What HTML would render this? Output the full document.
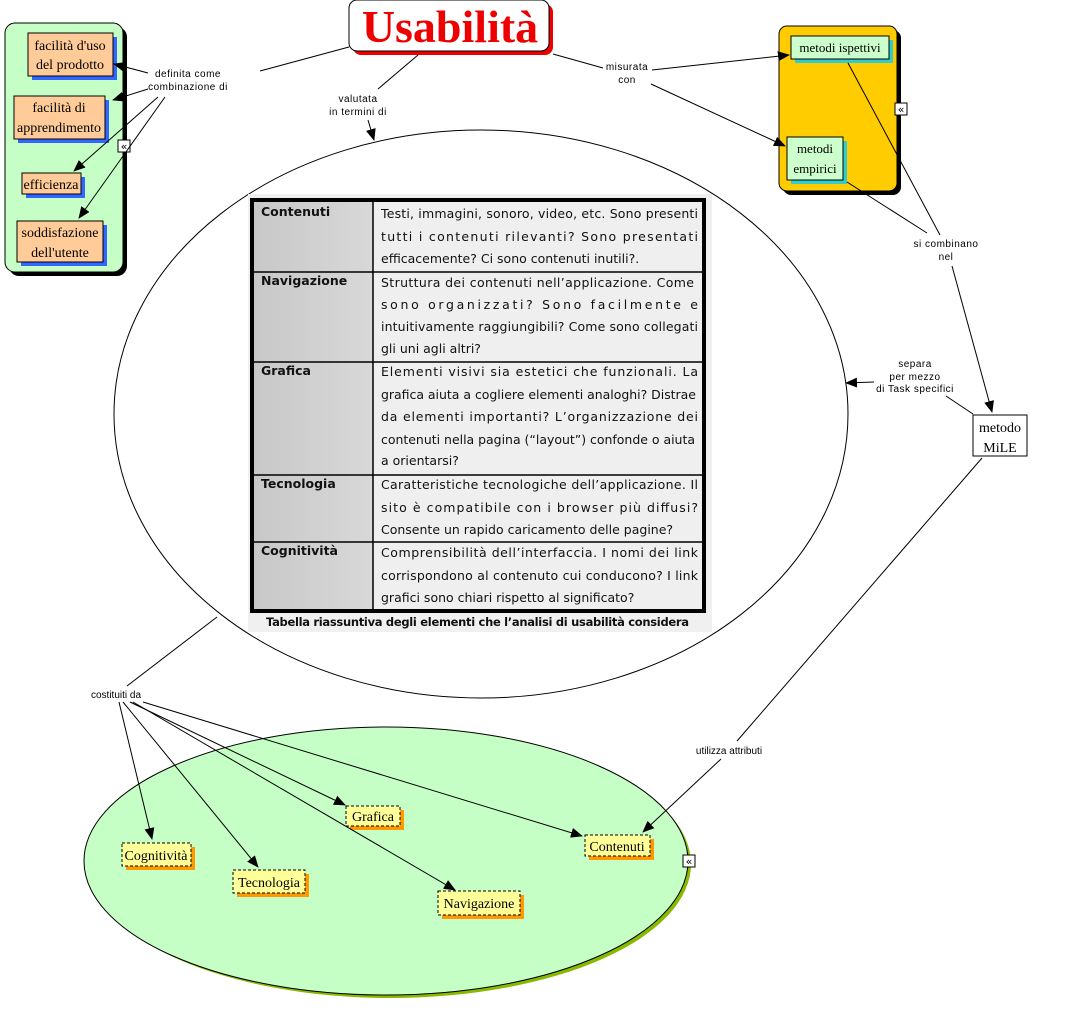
<!DOCTYPE html>
<html><head><meta charset="utf-8">
<style>
body{margin:0;background:#fff;}
svg{display:block;}
.lbl{font-family:"Liberation Sans",sans-serif;font-size:10px;fill:#000;text-anchor:middle;letter-spacing:0.5px;}
.sr{font-family:"Liberation Serif",serif;font-size:14px;fill:#000;text-anchor:middle;}
.tb{font-family:"DejaVu Sans",sans-serif;font-size:12.5px;fill:#111;}
.tbh{font-family:"DejaVu Sans",sans-serif;font-size:12.5px;font-weight:bold;fill:#111;}
</style></head><body>
<svg width="1067" height="1035" viewBox="0 0 1067 1035" xmlns="http://www.w3.org/2000/svg">
<defs>
<marker id="a" markerWidth="12" markerHeight="10" refX="11" refY="5" orient="auto" markerUnits="userSpaceOnUse">
<path d="M0,0 L12,5 L0,10 z" fill="#000"/></marker>
<linearGradient id="g1" x1="0" x2="1"><stop offset="0" stop-color="#c8c8c8"/><stop offset="1" stop-color="#d8d8d8"/></linearGradient>
</defs>

<ellipse cx="390" cy="864" rx="301" ry="134" fill="#88b800"/>
<ellipse cx="386" cy="861" rx="302" ry="134" fill="#c6ffc6" stroke="#000" stroke-width="1"/>

<ellipse cx="481" cy="414" rx="367" ry="284" fill="#fff" stroke="#000" stroke-width="1"/>

<rect x="248" y="194" width="464" height="438" fill="#f0f0f0"/>
<rect x="252" y="200" width="452" height="411" fill="#efefef" stroke="#000" stroke-width="4"/>
<rect x="254" y="202" width="119" height="407" fill="url(#g1)"/>
<line x1="373" y1="200" x2="373" y2="611" stroke="#000" stroke-width="1.5"/>
<g stroke="#000" stroke-width="1.5">
<line x1="252" y1="272" x2="704" y2="272"/>
<line x1="252" y1="362" x2="704" y2="362"/>
<line x1="252" y1="475" x2="704" y2="475"/>
<line x1="252" y1="542" x2="704" y2="542"/>
</g>
<text class="tbh" x="261" y="216">Contenuti</text>
<text class="tbh" x="261" y="285">Navigazione</text>
<text class="tbh" x="261" y="375">Grafica</text>
<text class="tbh" x="261" y="488">Tecnologia</text>
<text class="tbh" x="261" y="555">Cognitività</text>
<g class="tb">
<text x="381" y="218" textLength="317" lengthAdjust="spacing">Testi, immagini, sonoro, video, etc. Sono presenti</text>
<text x="381" y="241" textLength="317" lengthAdjust="spacing">tutti i contenuti rilevanti? Sono presentati</text>
<text x="381" y="263">efficacemente? Ci sono contenuti inutili?.</text>
<text x="381" y="287" textLength="313" lengthAdjust="spacing">Struttura dei contenuti nell’applicazione. Come</text>
<text x="381" y="309" textLength="317" lengthAdjust="spacing">sono organizzati? Sono facilmente e</text>
<text x="381" y="331" textLength="317" lengthAdjust="spacing">intuitivamente raggiungibili? Come sono collegati</text>
<text x="381" y="353">gli uni agli altri?</text>
<text x="381" y="376" textLength="317" lengthAdjust="spacing">Elementi visivi sia estetici che funzionali. La</text>
<text x="381" y="399" textLength="315" lengthAdjust="spacing">grafica aiuta a cogliere elementi analoghi? Distrae</text>
<text x="381" y="421" textLength="317" lengthAdjust="spacing">da elementi importanti? L’organizzazione dei</text>
<text x="381" y="444" textLength="314" lengthAdjust="spacing">contenuti nella pagina (“layout”) confonde o aiuta</text>
<text x="381" y="465">a orientarsi?</text>
<text x="381" y="489" textLength="317" lengthAdjust="spacing">Caratteristiche tecnologiche dell’applicazione. Il</text>
<text x="381" y="512" textLength="317" lengthAdjust="spacing">sito è compatibile con i browser più diffusi?</text>
<text x="381" y="534">Consente un rapido caricamento delle pagine?</text>
<text x="381" y="557" textLength="317" lengthAdjust="spacing">Comprensibilità dell’interfaccia. I nomi dei link</text>
<text x="381" y="580" textLength="317" lengthAdjust="spacing">corrispondono al contenuto cui conducono? I link</text>
<text x="381" y="602">grafici sono chiari rispetto al significato?</text>
</g>
<text x="266" y="626" font-family="DejaVu Sans,sans-serif" font-size="11.5" font-weight="bold" fill="#111" textLength="423" lengthAdjust="spacing">Tabella riassuntiva degli elementi che l’analisi di usabilità considera</text>

<rect x="9" y="27" width="118" height="249" rx="10" fill="#000"/>
<rect x="5" y="23" width="118" height="249" rx="10" fill="#c6ffc6" stroke="#000"/>
<g>
<rect x="32" y="37" width="85" height="43" fill="#3366ff"/>
<rect x="28" y="33" width="85" height="43" fill="#ffcc99" stroke="#000"/>
<text class="sr" x="70" y="50">facilità d'uso</text><text class="sr" x="70" y="69">del prodotto</text>
<rect x="18" y="100" width="91" height="43" fill="#3366ff"/>
<rect x="14" y="96" width="91" height="43" fill="#ffcc99" stroke="#000"/>
<text class="sr" x="59" y="112">facilità di</text><text class="sr" x="59" y="132">apprendimento</text>
<rect x="26" y="177" width="59" height="21" fill="#3366ff"/>
<rect x="22" y="173" width="59" height="21" fill="#ffcc99" stroke="#000"/>
<text class="sr" x="51" y="189">efficienza</text>
<rect x="21" y="225" width="86" height="41" fill="#3366ff"/>
<rect x="17" y="221" width="86" height="41" fill="#ffcc99" stroke="#000"/>
<text class="sr" x="60" y="237">soddisfazione</text><text class="sr" x="60" y="257">dell'utente</text>
</g>

<rect x="783" y="30" width="118" height="165" rx="8" fill="#000"/>
<rect x="779" y="26" width="118" height="165" rx="8" fill="#ffcc00" stroke="#000"/>
<rect x="795" y="40" width="98" height="23" fill="#33cccc"/>
<rect x="791" y="36" width="98" height="23" fill="#ccffcc" stroke="#000"/>
<text class="sr" x="840" y="52" style="font-size:13px">metodi ispettivi</text>
<rect x="791" y="141" width="56" height="43" fill="#33cccc"/>
<rect x="787" y="137" width="56" height="43" fill="#ccffcc" stroke="#000"/>
<text class="sr" x="815" y="153" style="font-size:13px">metodi</text><text class="sr" x="815" y="173" style="font-size:13px">empirici</text>

<rect x="353" y="4" width="200" height="51" rx="8" fill="#ee0000"/>
<rect x="349" y="0" width="200" height="51" rx="8" fill="#fff" stroke="#000"/>
<text x="450" y="42" font-family="Liberation Serif,serif" font-size="46" font-weight="bold" fill="#ee0000" text-anchor="middle">Usabilità</text>

<rect x="973" y="415" width="54" height="41" fill="#fff" stroke="#000"/>
<text class="sr" x="1000" y="432">metodo</text><text class="sr" x="1000" y="452">MiLE</text>

<g>
<rect x="126" y="847" width="69" height="23" fill="#ff9900"/>
<rect x="122" y="843" width="69" height="23" fill="#ffff99" stroke="#000" stroke-dasharray="3,2"/>
<text class="sr" x="156" y="860">Cognitività</text>
<rect x="237" y="874" width="72" height="23" fill="#ff9900"/>
<rect x="233" y="870" width="72" height="23" fill="#ffff99" stroke="#000" stroke-dasharray="3,2"/>
<text class="sr" x="269" y="887">Tecnologia</text>
<rect x="350" y="810" width="54" height="20" fill="#ff9900"/>
<rect x="346" y="806" width="54" height="20" fill="#ffff99" stroke="#000" stroke-dasharray="3,2"/>
<text class="sr" x="373" y="821">Grafica</text>
<rect x="442" y="895" width="82" height="24" fill="#ff9900"/>
<rect x="438" y="891" width="82" height="24" fill="#ffff99" stroke="#000" stroke-dasharray="3,2"/>
<text class="sr" x="479" y="908">Navigazione</text>
<rect x="589" y="839" width="65" height="21" fill="#ff9900"/>
<rect x="585" y="835" width="65" height="21" fill="#ffff99" stroke="#000" stroke-dasharray="3,2"/>
<text class="sr" x="617" y="851">Contenuti</text>
</g>

<g fill="#fff" stroke="#000">
<rect x="118" y="140" width="12" height="12"/><rect x="895" y="103" width="12" height="12"/><rect x="683" y="855" width="12" height="12"/>
</g>
<g font-family="DejaVu Sans,sans-serif" font-size="11" text-anchor="middle">
<text x="124" y="150">«</text><text x="901" y="113">«</text><text x="689" y="865">«</text>
</g>

<g stroke="#000" stroke-width="1" fill="none">
<line x1="349" y1="47" x2="260" y2="71"/>
<line x1="148" y1="73" x2="114" y2="64" marker-end="url(#a)"/>
<line x1="148" y1="89" x2="113" y2="100" marker-end="url(#a)"/>
<line x1="158" y1="97" x2="74" y2="171" marker-end="url(#a)"/>
<line x1="165" y1="97" x2="79" y2="218" marker-end="url(#a)"/>
<line x1="418" y1="55" x2="378" y2="89"/>
<line x1="368" y1="120" x2="374" y2="140" marker-end="url(#a)"/>
<line x1="553" y1="54" x2="603" y2="68"/>
<line x1="652" y1="70" x2="789" y2="55" marker-end="url(#a)"/>
<line x1="651" y1="84" x2="785" y2="146" marker-end="url(#a)"/>
<line x1="848" y1="63" x2="940" y2="235"/>
<line x1="847" y1="182" x2="927" y2="233"/>
<line x1="952" y1="266" x2="992" y2="412" marker-end="url(#a)"/>
<line x1="973" y1="414" x2="946" y2="396"/>
<line x1="874" y1="382" x2="846" y2="383" marker-end="url(#a)"/>
<line x1="982" y1="458" x2="737" y2="741"/>
<line x1="721" y1="759" x2="643" y2="832" marker-end="url(#a)"/>
<line x1="217" y1="617" x2="127" y2="686"/>
<line x1="119" y1="702" x2="152" y2="839" marker-end="url(#a)"/>
<line x1="123" y1="702" x2="258" y2="867" marker-end="url(#a)"/>
<line x1="130" y1="702" x2="345" y2="805" marker-end="url(#a)"/>
<line x1="133" y1="702" x2="455" y2="890" marker-end="url(#a)"/>
<line x1="143" y1="702" x2="582" y2="836" marker-end="url(#a)"/>
</g>

<text class="lbl" x="188" y="77">definita come</text>
<text class="lbl" x="188" y="90">combinazione di</text>
<text class="lbl" x="358" y="102">valutata</text>
<text class="lbl" x="358" y="115">in termini di</text>
<text class="lbl" x="627" y="70">misurata</text>
<text class="lbl" x="627" y="83">con</text>
<text class="lbl" x="946" y="247">si combinano</text>
<text class="lbl" x="946" y="260">nel</text>
<text class="lbl" x="915" y="367">separa</text>
<text class="lbl" x="915" y="380">per mezzo</text>
<text class="lbl" x="915" y="392">di Task specifici</text>
<text class="lbl" x="116" y="698" style="letter-spacing:0">costituiti da</text>
<text class="lbl" x="729" y="754" style="letter-spacing:0">utilizza attributi</text>
</svg>
</body></html>
